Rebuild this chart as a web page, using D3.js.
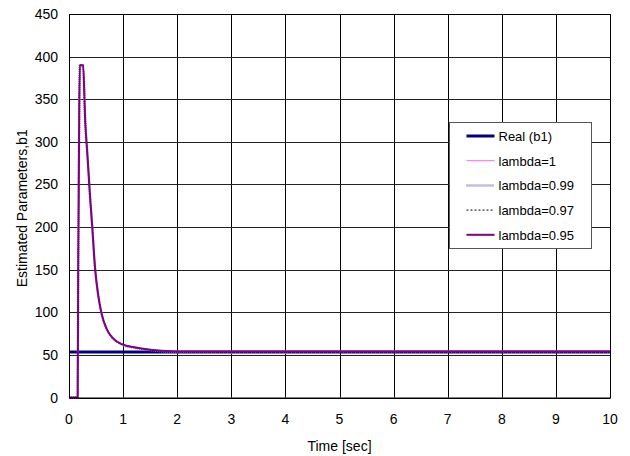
<!DOCTYPE html>
<html>
<head>
<meta charset="utf-8">
<script src="https://cdn.jsdelivr.net/npm/d3@7"></script>
<style>
  body { margin: 0; background: #fff; }
  text { font-family: "Liberation Sans", Arial, sans-serif; }
  .tick { font-family: "Liberation Sans Narrow", "Arial Narrow", "Liberation Sans", sans-serif; }
</style>
</head>
<body>
<div id="chart"></div>
<script>
// data
var time = [0, 0.16, 0.17, 0.18, 0.19, 0.20, 0.26, 0.30, 0.34, 0.39, 0.43,
  0.48, 0.54, 0.60, 0.70, 0.82, 1.0, 1.2, 1.4, 1.6, 1.8,
  2.0, 2.5, 3, 4, 5, 6, 7, 8, 9, 10];
var realB1 = 53.5;
var lambda1 = [0, 0, 148, 243, 341, 390, 390, 324, 285, 235, 200,
  153, 120, 99, 80, 69, 62, 59, 57, 55.5, 54.8,
  54.5, 54.5, 54.5, 54.5, 54.5, 54.5, 54.5, 54.5, 54.5, 54.5];
var lambda099 = [0, 0, 148, 243, 341, 390, 390, 324, 285, 235, 200,
  153, 120, 99, 80, 69, 61.5, 58.5, 56.5, 55, 54,
  53.5, 53, 52.8, 52.6, 52.5, 52.5, 52.5, 52.5, 52.5, 52.5];
var lambda097 = [0, 0, 148, 243, 341, 390, 390, 324, 285, 235, 200,
  153, 120, 99, 80, 69, 62, 59, 57, 55.3, 54.3,
  53.8, 53.3, 53, 53, 53, 53, 53, 53, 53, 53];
var lambda095 = [0, 0, 148, 243, 341, 390, 390, 324, 285, 235, 200,
  153, 120, 99, 80, 69, 62, 59, 57, 55.5, 54.5,
  54, 54, 54, 54, 54, 54, 54, 54, 54, 54];
var xTicks = [0, 1, 2, 3, 4, 5, 6, 7, 8, 9, 10];
var yTicks = [0, 50, 100, 150, 200, 250, 300, 350, 400, 450];

var width = 630, height = 456;
var margin = {left: 69, right: 20, top: 14, bottom: 58.5};

var svg = d3.select("#chart").append("svg")
  .attr("width", width)
  .attr("height", height);

var x = d3.scaleLinear().domain([0, 10]).range([margin.left, width - margin.right]);
var y = d3.scaleLinear().domain([0, 450]).range([height - margin.bottom, margin.top]);

// grid
svg.append("g").selectAll("line").data(xTicks).enter().append("line")
  .attr("x1", d => Math.round(x(d)) + 0.5).attr("x2", d => Math.round(x(d)) + 0.5)
  .attr("y1", y(450)).attr("y2", y(0))
  .attr("stroke", "#000").attr("stroke-width", 1);
svg.append("g").selectAll("line").data(yTicks).enter().append("line")
  .attr("x1", x(0)).attr("x2", x(10))
  .attr("y1", d => Math.round(y(d)) + 0.5).attr("y2", d => Math.round(y(d)) + 0.5)
  .attr("stroke", d => d === 0 ? "#000" : "#222").attr("stroke-width", 1);

// axes labels
svg.append("g").selectAll("text").data(yTicks).enter().append("text")
  .attr("class", "tick")
  .attr("x", x(0) - 11).attr("y", d => y(d) + 5)
  .attr("text-anchor", "end").attr("font-size", 14)
  .text(d => d);
svg.append("g").selectAll("text").data(xTicks).enter().append("text")
  .attr("class", "tick")
  .attr("x", d => x(d)).attr("y", y(0) + 26)
  .attr("text-anchor", "middle").attr("font-size", 14)
  .text(d => d);

svg.append("text")
  .attr("x", (x(0) + x(10)) / 2).attr("y", 451)
  .attr("text-anchor", "middle").attr("font-size", 14)
  .text("Time [sec]");
svg.append("text")
  .attr("transform", "translate(27," + (y(222)) + ") rotate(-90)")
  .attr("text-anchor", "middle").attr("font-size", 14)
  .text("Estimated Parameters,b1");

// series
var series = [
  {name: "Real (b1)", values: time.map(() => realB1), color: "#000080", width: 3, dash: null},
  {name: "lambda=1", values: lambda1, color: "#ff66ff", width: 1, dash: null},
  {name: "lambda=0.99", values: lambda099, color: "#8080c0", width: 2.5, dash: "1,1"},
  {name: "lambda=0.97", values: lambda097, color: "#000000", width: 1, dash: "2,2"},
  {name: "lambda=0.95", values: lambda095, color: "#800080", width: 2, dash: null}
];

var line = d3.line()
  .x((d, i) => x(time[i]))
  .y(d => y(d))
  .curve(d3.curveMonotoneX);

svg.append("g").selectAll("path").data(series).enter().append("path")
  .attr("d", d => line(d.values))
  .attr("fill", "none")
  .attr("stroke", d => d.color)
  .attr("stroke-width", d => d.width)
  .attr("stroke-dasharray", d => d.dash);

// legend
var legend = svg.append("g").attr("transform", "translate(449.5,122.5)");
legend.append("rect")
  .attr("width", 142).attr("height", 126)
  .attr("fill", "#fff").attr("stroke", "#555").attr("stroke-width", 1);
var item = legend.selectAll("g").data(series).enter().append("g")
  .attr("transform", (d, i) => "translate(0," + (13.5 + i * 24.7) + ")");
item.append("line")
  .attr("x1", 17).attr("x2", 45).attr("y1", 0).attr("y2", 0)
  .attr("stroke", d => d.color)
  .attr("stroke-width", d => d.width)
  .attr("stroke-dasharray", d => d.dash);
item.append("text")
  .attr("x", 49).attr("y", 5).attr("font-size", 13)
  .text(d => d.name);

// frame
svg.append("rect")
  .attr("x", x(0) + 0.5).attr("y", y(450) + 0.5)
  .attr("width", x(10) - x(0)).attr("height", y(0) - y(450))
  .attr("fill", "none").attr("stroke", "#000");
</script>
</body>
</html>
